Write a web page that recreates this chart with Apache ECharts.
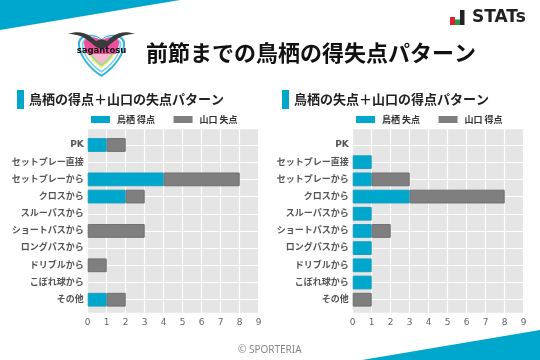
<!DOCTYPE html>
<html><head><meta charset="utf-8">
<style>html,body{margin:0;padding:0;background:#fff}#c{width:540px;height:360px}</style>
<script src="https://cdn.jsdelivr.net/npm/echarts@6/dist/echarts.min.js"></script>
</head><body><div id="c"></div>
<script>
const categories = ['PK','セットプレー直接','セットプレーから','クロスから','スルーパスから','ショートパスから','ロングパスから','ドリブルから','こぼれ球から','その他'];
const tosuScored   = [1,0,4,2,0,0,0,0,0,1];
const yamaguchiConceded = [1,0,4,1,0,3,0,1,0,1];
const tosuConceded = [0,1,1,3,1,1,1,1,1,0];
const yamaguchiScored   = [0,0,2,5,0,1,0,0,0,1];
const xTicks = {min:0,max:9,interval:1};
const mainTitle = '前節までの鳥栖の得失点パターン';
const leftTitle = '鳥栖の得点＋山口の失点パターン';
const rightTitle = '鳥栖の失点＋山口の得点パターン';

const TEAL='#00a7cd', GREY='#7f7f7f', CJK='"Noto Sans CJK JP","Noto Sans",sans-serif';
const panels=[
 {left:87.7,names:['鳥栖 得点','山口 失点'],a:tosuScored,b:yamaguchiConceded,legend:91},
 {left:352.7,names:['鳥栖 失点','山口 得点'],a:tosuConceded,b:yamaguchiScored,legend:356}
];
const W=171;
const grid=[],xAxis=[],yAxis=[],series=[],legend=[];
panels.forEach((p,i)=>{
  const o=i*2,n=o+1;
  grid.push({left:p.left,width:W,top:129.3,height:183.4,show:true,backgroundColor:'#e5e5e5',borderWidth:0,z:0});
  grid.push({left:p.left,width:W,top:136.4,height:171.9,z:1});
  xAxis.push({gridIndex:o,type:'value',...xTicks,axisLine:{show:false},axisTick:{show:false},
    axisLabel:{color:'#666',fontSize:9,fontFamily:'"DejaVu Sans"',margin:5,hideOverlap:false},
    splitLine:{show:true,lineStyle:{color:'#fff',width:1.2}}});
  xAxis.push({gridIndex:n,type:'value',...xTicks,show:false,splitLine:{show:false}});
  yAxis.push({gridIndex:o,type:'value',min:0,max:1,show:false,splitLine:{show:false}});
  yAxis.push({gridIndex:n,type:'category',inverse:true,data:categories,
    axisLine:{show:false},axisTick:{show:false,alignWithLabel:true},
    axisLabel:{interval:0,color:'#555',fontSize:9,fontWeight:'bold',fontFamily:'"DejaVu Sans",'+CJK,margin:4,padding:[2,0,0,0]},
    splitLine:{show:true,alignWithLabel:true,interval:0,lineStyle:{color:'#fff',width:1.2}}});
  const s=(name,vals,color,edge)=>({type:'bar',name,stack:'s'+i,xAxisIndex:n,yAxisIndex:n,barWidth:'80%',z:3,
    data:vals.map(v=>v===0?'-':v),itemStyle:{color,borderColor:edge,borderWidth:1},silent:true});
  series.push(s(p.names[0],p.a,TEAL,'#1a9dbd'),s(p.names[1],p.b,GREY,'#6e6e6e'));
  legend.push({data:p.names,left:p.legend,top:115,itemWidth:19,itemHeight:7,itemGap:18.5,icon:'rect',padding:0,
    itemStyle:{borderWidth:0},selectedMode:false,
    textStyle:{fontSize:9,fontWeight:'bold',color:'#333',fontFamily:CJK,padding:[0,0,0,2]}});
});
const reg=(name,d)=>echarts.graphic.registerShape(name,echarts.graphic.extendPath(d,{}));
reg('lheart','M101.5 39C95 33 80 33 78 42C77 55 90 70 101.5 77C113 70 126 55 125 42C123 33 108 33 101.5 39Z');
reg('lpink','M84 42C86 36 96 36 101.5 41C107 36 117 36 119 42C119 46 118 50 116 54L87 54C85 50 84 46 84 42Z');
reg('lwing','M68 34C76 31 84 32 90 36L96 41L101.5 39L107 41L113 36C119 32 127 31 135 34C127 34 120 36 113 42L107 47L101.5 49L96 47L90 42C83 36 76 34 68 34Z');
const layer=(k,fill)=>({type:'lheart',style:{fill},originX:101.5,originY:50,scaleX:k,scaleY:k,silent:true});
const txt=(x,y,text,font,fill,extra={})=>({type:'text',x,y,silent:true,style:{text,font,fill,verticalAlign:'middle',...extra}});
const rect=(x,y,w,h,fill)=>({type:'rect',shape:{x,y,width:w,height:h},style:{fill},silent:true});
const graphic=[
 {type:'polygon',shape:{points:[[0,0],[180,0],[0,30]]},style:{fill:TEAL},silent:true},
 {type:'polygon',shape:{points:[[362,360],[540,330],[540,360]]},style:{fill:TEAL},silent:true},
 txt(146,53,mainTitle,'bold 22px '+CJK,'#111'),
 rect(17,90,7,19,TEAL), rect(282,90,7,19,TEAL),
 txt(29,99.5,leftTitle,'bold 13px '+CJK,'#222'),
 txt(294,99.5,rightTitle,'bold 13px '+CJK,'#222'),
 rect(450,17,5,8,'#e0202c'), rect(455,19.5,5,5.5,'#1f9e4a'), rect(460,10,4.5,15,'#222'),
 txt(472,18,'STATs','bold 17px "DejaVu Sans"','#222'),
 txt(238,350,'© SPORTERIA','400 10px "Noto Sans",sans-serif','#888'),
 layer(1,'#35b4e0'), layer(.91,'#fff'), layer(.84,'#7fd0ea'), layer(.76,'#fff'),
 layer(.68,'#f4ef8a'), layer(.6,'#9ed88f'),layer(.52,'#f6b7cf'),
 {type:'lpink',style:{fill:'#ec4f9e'},silent:true},
 {type:'lwing',style:{fill:'#3a3a3a'},silent:true},
 txt(101.5,51,'sagantosu','bold 8.5px "DejaVu Sans"','#111',{align:'center'})
];
echarts.init(document.getElementById('c')).setOption({animation:false,grid,xAxis,yAxis,series,legend,graphic});
</script></body></html>
